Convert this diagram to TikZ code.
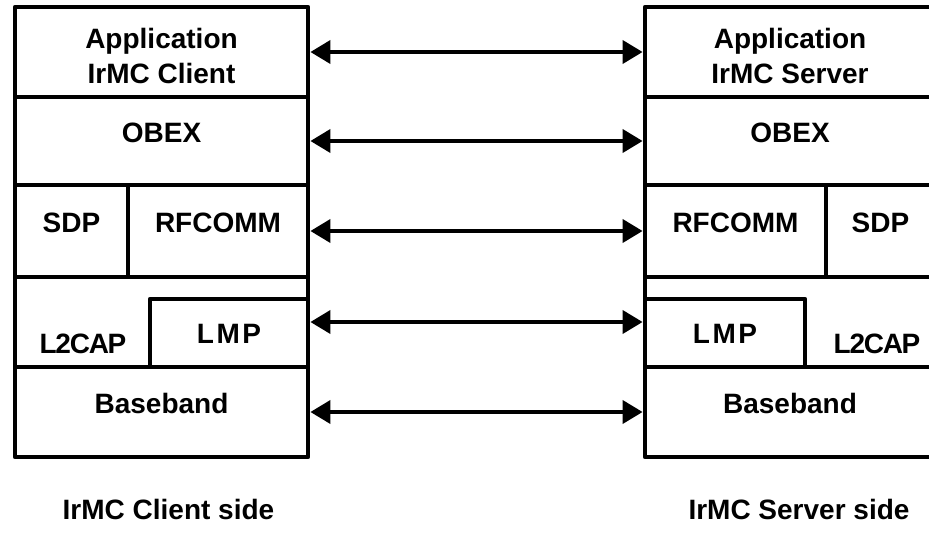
\documentclass[tikz,border=0pt]{standalone}
\usepackage{fontspec}
\setmainfont{Liberation Sans}
\usetikzlibrary{arrows.meta}
\tikzset{
    layer/.style={draw, line width=4.8pt, line join=round, inner sep=0pt},
    oneline/.style={text height=20pt, text depth=18pt},
    link/.style={line width=3.7pt, {Triangle[length=20pt,width=23pt]}-{Triangle[length=20pt,width=23pt]}}
}
\begin{document}
\begin{tikzpicture}[x=1pt, y=-1pt, every node/.style={font=\bfseries\fontsize{28}{35}\selectfont}]
    \useasboundingbox (0,0) rectangle (929,535);
    \node[layer, align=center, minimum width=293pt, minimum height=90pt] (capp) at (161.5,52) {\rule{0pt}{27.5pt}Application\\IrMC Client};
    \node[layer, oneline, minimum width=293pt, minimum height=88pt] (cobex) at (161.5,141) {OBEX};
    \node[layer, oneline, minimum width=113pt, minimum height=92pt] (csdp) at (71.5,231) {SDP};
    \node[layer, oneline, minimum width=180pt, minimum height=92pt] (crfcomm) at (218,231) {RFCOMM};
    \node[layer, minimum width=293pt, minimum height=90pt] (cl2cap) at (161.5,322) {};
    \node[layer, text height=20pt, text depth=0pt, minimum width=158pt, minimum height=68pt] (clmp) at (229,333) {\addfontfeature{LetterSpace=9}LMP};
    \node[anchor=base] (cl2captext) at (83,353) {\addfontfeature{LetterSpace=-4.5}L2CAP};
    \node[layer, oneline, minimum width=293pt, minimum height=90pt] (cbase) at (161.5,412) {Baseband};
    \node[layer, align=center, minimum width=290pt, minimum height=90pt] (sapp) at (790,52) {\rule{0pt}{27.5pt}Application\\IrMC Server};
    \node[layer, oneline, minimum width=290pt, minimum height=88pt] (sobex) at (790,141) {OBEX};
    \node[layer, oneline, minimum width=181pt, minimum height=92pt] (srfcomm) at (735.5,231) {RFCOMM};
    \node[layer, oneline, minimum width=109pt, minimum height=92pt] (ssdp) at (880.5,231) {SDP};
    \node[layer, minimum width=290pt, minimum height=90pt] (sl2cap) at (790,322) {};
    \node[layer, text height=20pt, text depth=0pt, minimum width=160pt, minimum height=68pt] (slmp) at (725,333) {\addfontfeature{LetterSpace=9}LMP};
    \node[anchor=base] (sl2captext) at (877,353) {\addfontfeature{LetterSpace=-4.5}L2CAP};
    \node[layer, oneline, minimum width=290pt, minimum height=90pt] (sbase) at (790,412) {Baseband};
    \draw[link] (capp.east) -- (sapp.west);
    \draw[link] (cobex.east) -- (sobex.west);
    \draw[link] (crfcomm.east) -- (srfcomm.west);
    \draw[link] (cl2cap.east) -- (sl2cap.west);
    \draw[link] (cbase.east) -- (sbase.west);
    \node[anchor=base] (cside) at (168.5,519) {IrMC Client side};
    \node[anchor=base] (sside) at (799,519) {IrMC Server side};
\end{tikzpicture}
\end{document}
